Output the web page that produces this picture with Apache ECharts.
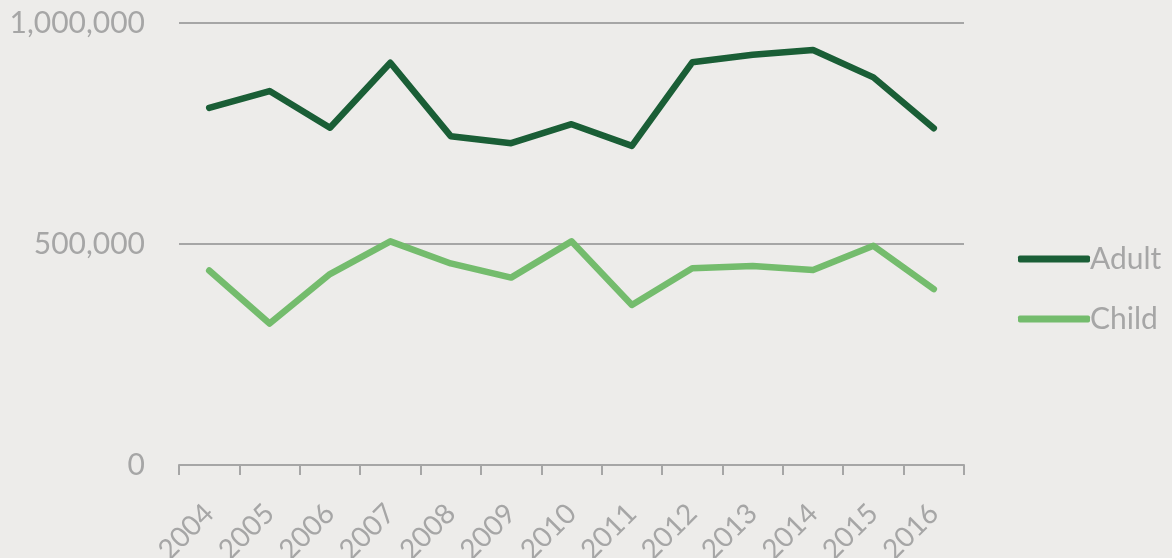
<!DOCTYPE html>
<html>
<head>
<meta charset="utf-8">
<script src="https://cdn.jsdelivr.net/npm/echarts@6/dist/echarts.min.js"></script>
<style>
html,body{margin:0;padding:0;background:#EDECEA;}
#chart{width:1172px;height:558px;}
</style>
</head>
<body>
<div id="chart"></div>
<script>
var years = ['2004','2005','2006','2007','2008','2009','2010','2011','2012','2013','2014','2015','2016'];
var adult = [808000, 846000, 763000, 910000, 744000, 728000, 771000, 722000, 911000, 928000, 939000, 877000, 762000];
var child = [440000, 320000, 432000, 506000, 456000, 424000, 506000, 362000, 445000, 450000, 441000, 496000, 398000];
var seriesNames = ['Adult', 'Child'];
var colors = ['#1A5E36', '#74BC6D'];

var chart = echarts.init(document.getElementById('chart'));
var fontFam = 'Lato, "Open Sans", sans-serif';
chart.setOption({
  backgroundColor: '#EDECEA',
  animation: false,
  grid: {left: 179, right: 208, top: 23, bottom: 93, containLabel: false, outerBoundsMode: 'none'},
  legend: {
    orient: 'vertical',
    left: 1013,
    top: 239,
    itemWidth: 72,
    itemHeight: 7,
    itemGap: 30,
    icon: 'roundRect',
    textStyle: {color: '#A6A6A6', fontSize: 30, fontFamily: fontFam, padding: [0,0,0,-5]},
    data: seriesNames
  },
  xAxis: {
    type: 'category',
    data: years,
    boundaryGap: true,
    axisLine: {lineStyle: {color: '#A6A6A6', width: 2}},
    axisTick: {show: true, length: 10, lineStyle: {color: '#A6A6A6', width: 2}},
    axisLabel: {rotate: 45, margin: 44, color: '#A6A6A6', fontSize: 28, fontFamily: fontFam, interval: 0}
  },
  yAxis: {
    type: 'value',
    min: 0, max: 1000000, interval: 500000,
    axisLine: {show: false},
    axisTick: {show: false},
    splitLine: {lineStyle: {color: '#A6A6A6', width: 2}},
    axisLabel: {
      margin: 34, color: '#A6A6A6', fontSize: 30, fontFamily: fontFam,
      formatter: function(v){ return v.toString().replace(/\B(?=(\d{3})+(?!\d))/g, ','); }
    }
  },
  series: [
    {name: seriesNames[0], type: 'line', data: adult, symbol: 'none', color: colors[0],
     lineStyle: {width: 6.5, color: colors[0], cap: 'round', join: 'round'}},
    {name: seriesNames[1], type: 'line', data: child, symbol: 'none', color: colors[1],
     lineStyle: {width: 6.5, color: colors[1], cap: 'round', join: 'round'}}
  ]
});
</script>
</body>
</html>
